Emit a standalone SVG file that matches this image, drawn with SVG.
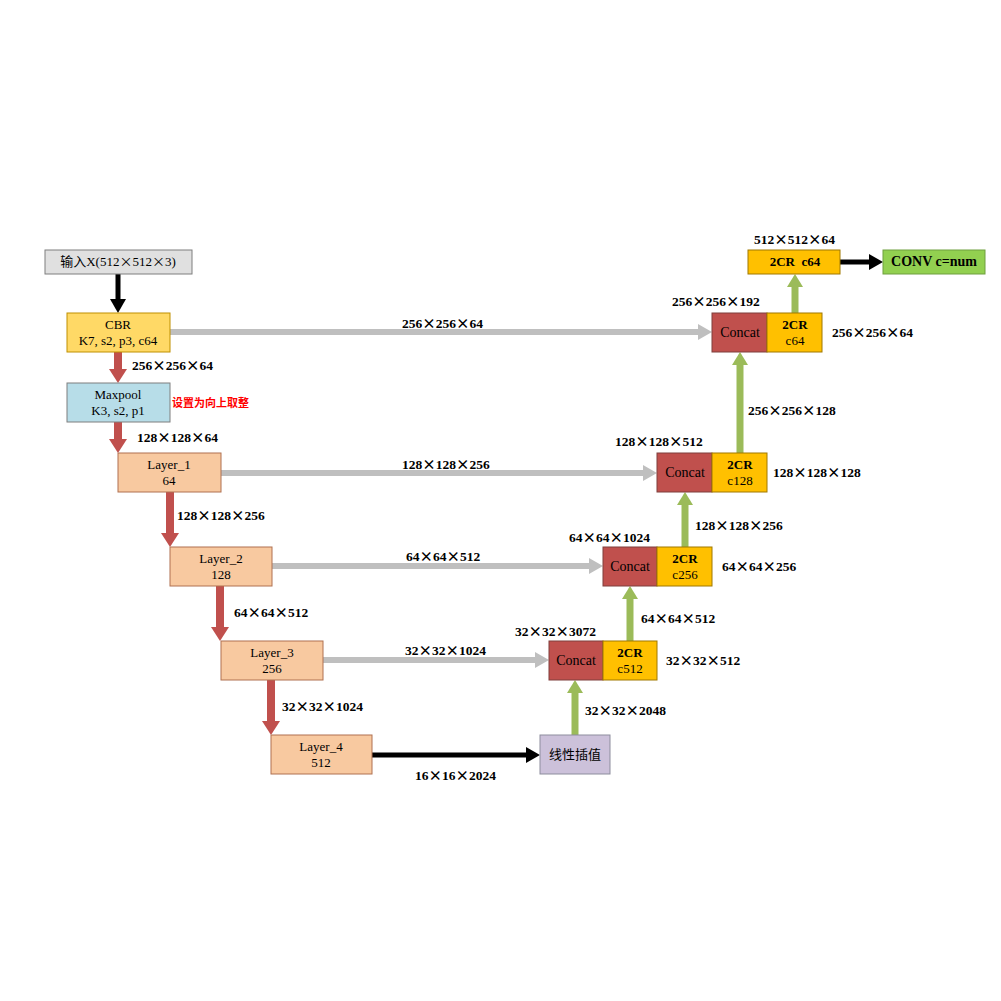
<svg xmlns="http://www.w3.org/2000/svg" width="1001" height="1001" viewBox="0 0 1001 1001">
<style>
.t{font-family:"Liberation Serif","Noto Sans CJK SC",serif;font-size:13px;fill:#000;text-anchor:middle}
.d{font-family:"Liberation Serif","Noto Sans CJK SC",serif;font-size:13.5px;font-weight:bold;fill:#000}
.x{font-family:"Noto Sans CJK SC",sans-serif}
.b{font-weight:bold}
.c{font-size:14px}
.red{stroke:#c0504d;stroke-width:8;fill:none}
.gry{stroke:#bfbfbf;stroke-width:6;fill:none}
.grn{stroke:#9bbb59;stroke-width:7;fill:none}
.blk{stroke:#000;stroke-width:5;fill:none}
</style>
<defs>
<marker id="mr" markerUnits="userSpaceOnUse" markerWidth="14" markerHeight="18" refX="0" refY="9" orient="auto"><path d="M0,0L14,9L0,18z" fill="#c0504d"/></marker>
<marker id="mg" markerUnits="userSpaceOnUse" markerWidth="14" markerHeight="16" refX="0" refY="8" orient="auto"><path d="M0,0L14,8L0,16z" fill="#bfbfbf"/></marker>
<marker id="mn" markerUnits="userSpaceOnUse" markerWidth="13" markerHeight="16" refX="0" refY="8" orient="auto"><path d="M0,0L13,8L0,16z" fill="#9bbb59"/></marker>
<marker id="mb" markerUnits="userSpaceOnUse" markerWidth="14" markerHeight="16" refX="0" refY="8" orient="auto"><path d="M0,0L14,8L0,16z" fill="#000"/></marker>
</defs>
<rect width="1001" height="1001" fill="#fff"/>
<g id="connectors">
<line class="blk" x1="118" y1="274" x2="118" y2="299" marker-end="url(#mb)"/>
<line class="red" x1="118" y1="352" x2="118" y2="369" marker-end="url(#mr)"/>
<line class="red" x1="118" y1="422" x2="118" y2="439" marker-end="url(#mr)"/>
<line class="red" x1="170" y1="492" x2="170" y2="533" marker-end="url(#mr)"/>
<line class="red" x1="220" y1="586" x2="220" y2="627" marker-end="url(#mr)"/>
<line class="red" x1="271" y1="680" x2="271" y2="721" marker-end="url(#mr)"/>
<line class="blk" x1="372" y1="755" x2="526" y2="755" marker-end="url(#mb)"/>
<line class="gry" x1="170" y1="332" x2="698" y2="332" marker-end="url(#mg)"/>
<line class="gry" x1="221" y1="473" x2="643" y2="473" marker-end="url(#mg)"/>
<line class="gry" x1="272" y1="566" x2="589" y2="566" marker-end="url(#mg)"/>
<line class="gry" x1="323" y1="660" x2="535" y2="660" marker-end="url(#mg)"/>
<line class="grn" x1="575" y1="735" x2="575" y2="693" marker-end="url(#mn)"/>
<line class="grn" x1="630" y1="641" x2="630" y2="599" marker-end="url(#mn)"/>
<line class="grn" x1="685" y1="547" x2="685" y2="505" marker-end="url(#mn)"/>
<line class="grn" x1="740" y1="453" x2="740" y2="365" marker-end="url(#mn)"/>
<line class="grn" x1="795" y1="313" x2="795" y2="287" marker-end="url(#mn)"/>
<line class="blk" x1="840" y1="262" x2="869" y2="262" marker-end="url(#mb)"/>
</g>
<g id="input"><rect x="45" y="250" width="147" height="24" fill="#e0e0e0" stroke="#7f7f7f"/><text class="t" x="118" y="266">输入X(512<tspan class="x">×</tspan>512<tspan class="x">×</tspan>3)</text></g>
<g id="cbr"><rect x="67" y="313" width="103" height="39" fill="#ffd966" stroke="#bf9000"/><text class="t" x="118" y="329">CBR</text><text class="t" x="118" y="345">K7, s2, p3, c64</text></g>
<g id="maxpool"><rect x="67" y="383" width="103" height="39" fill="#b7dde8" stroke="#7f7f7f"/><text class="t" x="118" y="399">Maxpool</text><text class="t" x="118" y="415">K3, s2, p1</text></g>
<g id="layer1"><rect x="118" y="453" width="103" height="39" fill="#f8c9a0" stroke="#b07050"/><text class="t" x="169" y="469">Layer_1</text><text class="t" x="169" y="485">64</text></g>
<g id="layer2"><rect x="170" y="547" width="102" height="39" fill="#f8c9a0" stroke="#b07050"/><text class="t" x="221" y="563">Layer_2</text><text class="t" x="221" y="579">128</text></g>
<g id="layer3"><rect x="221" y="641" width="102" height="39" fill="#f8c9a0" stroke="#b07050"/><text class="t" x="272" y="657">Layer_3</text><text class="t" x="272" y="673">256</text></g>
<g id="layer4"><rect x="271" y="735" width="101" height="39" fill="#f8c9a0" stroke="#b07050"/><text class="t" x="321" y="751">Layer_4</text><text class="t" x="321" y="767">512</text></g>
<g id="interp"><rect x="540" y="735" width="70" height="39" fill="#ccc1da" stroke="#8d8d9d"/><text class="t" x="575" y="759">线性插值</text></g>
<g id="concat1"><rect x="549" y="641" width="54" height="39" fill="#c0504d" stroke="#7f3f3d"/><text class="t c" x="576" y="665">Concat</text><rect x="603" y="641" width="54" height="39" fill="#ffc000" stroke="#a07800"/><text class="t b" x="630" y="657">2CR</text><text class="t" x="630" y="673">c512</text></g>
<g id="concat2"><rect x="603" y="547" width="54" height="39" fill="#c0504d" stroke="#7f3f3d"/><text class="t c" x="630" y="571">Concat</text><rect x="657" y="547" width="55" height="39" fill="#ffc000" stroke="#a07800"/><text class="t b" x="685" y="563">2CR</text><text class="t" x="685" y="579">c256</text></g>
<g id="concat3"><rect x="657" y="453" width="55" height="39" fill="#c0504d" stroke="#7f3f3d"/><text class="t c" x="685" y="477">Concat</text><rect x="712" y="453" width="55" height="39" fill="#ffc000" stroke="#a07800"/><text class="t b" x="740" y="469">2CR</text><text class="t" x="740" y="485">c128</text></g>
<g id="concat4"><rect x="712" y="313" width="55" height="39" fill="#c0504d" stroke="#7f3f3d"/><text class="t c" x="740" y="337">Concat</text><rect x="767" y="313" width="55" height="39" fill="#ffc000" stroke="#a07800"/><text class="t b" x="795" y="329">2CR</text><text class="t" x="795" y="345">c64</text></g>
<g id="top2cr"><rect x="748" y="250" width="92" height="24" fill="#ffc000" stroke="#a07800"/><text class="t b" x="795" y="266" xml:space="preserve">2CR  c64</text></g>
<g id="conv"><rect x="883" y="250" width="102" height="24" fill="#92d050" stroke="#6f9f3f"/><text class="t b c" x="934" y="266">CONV c=num</text></g>
<g id="labels">
<text class="d" x="402" y="328">256<tspan class="x">×</tspan>256<tspan class="x">×</tspan>64</text>
<text class="d" x="402" y="469">128<tspan class="x">×</tspan>128<tspan class="x">×</tspan>256</text>
<text class="d" x="406" y="561">64<tspan class="x">×</tspan>64<tspan class="x">×</tspan>512</text>
<text class="d" x="405" y="655">32<tspan class="x">×</tspan>32<tspan class="x">×</tspan>1024</text>
<text class="d" x="415" y="780">16<tspan class="x">×</tspan>16<tspan class="x">×</tspan>2024</text>
<text class="d" x="132" y="370">256<tspan class="x">×</tspan>256<tspan class="x">×</tspan>64</text>
<text x="172" y="407" font-family="Noto Sans CJK SC,sans-serif" font-size="11px" font-weight="bold" fill="#ff0000">设置为向上取整</text>
<text class="d" x="137" y="442">128<tspan class="x">×</tspan>128<tspan class="x">×</tspan>64</text>
<text class="d" x="177" y="520">128<tspan class="x">×</tspan>128<tspan class="x">×</tspan>256</text>
<text class="d" x="234" y="617">64<tspan class="x">×</tspan>64<tspan class="x">×</tspan>512</text>
<text class="d" x="282" y="711">32<tspan class="x">×</tspan>32<tspan class="x">×</tspan>1024</text>
<text class="d" x="585" y="715">32<tspan class="x">×</tspan>32<tspan class="x">×</tspan>2048</text>
<text class="d" x="641" y="623">64<tspan class="x">×</tspan>64<tspan class="x">×</tspan>512</text>
<text class="d" x="695" y="530">128<tspan class="x">×</tspan>128<tspan class="x">×</tspan>256</text>
<text class="d" x="748" y="415">256<tspan class="x">×</tspan>256<tspan class="x">×</tspan>128</text>
<text class="d" x="515" y="636">32<tspan class="x">×</tspan>32<tspan class="x">×</tspan>3072</text>
<text class="d" x="569" y="542">64<tspan class="x">×</tspan>64<tspan class="x">×</tspan>1024</text>
<text class="d" x="615" y="446">128<tspan class="x">×</tspan>128<tspan class="x">×</tspan>512</text>
<text class="d" x="672" y="306">256<tspan class="x">×</tspan>256<tspan class="x">×</tspan>192</text>
<text class="d" x="754" y="244">512<tspan class="x">×</tspan>512<tspan class="x">×</tspan>64</text>
<text class="d" x="666" y="665">32<tspan class="x">×</tspan>32<tspan class="x">×</tspan>512</text>
<text class="d" x="722" y="571">64<tspan class="x">×</tspan>64<tspan class="x">×</tspan>256</text>
<text class="d" x="773" y="477">128<tspan class="x">×</tspan>128<tspan class="x">×</tspan>128</text>
<text class="d" x="832" y="337">256<tspan class="x">×</tspan>256<tspan class="x">×</tspan>64</text>
</g>
</svg>
